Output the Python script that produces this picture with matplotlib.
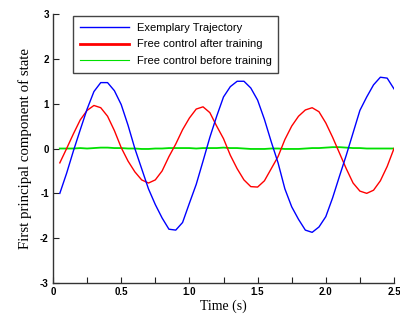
import matplotlib
matplotlib.use("Agg")
import matplotlib.pyplot as plt
from matplotlib.lines import Line2D
from matplotlib.ticker import MultipleLocator

t = [0.05, 0.10, 0.15, 0.20, 0.25, 0.30, 0.35, 0.40, 0.45, 0.50,
     0.55, 0.60, 0.65, 0.70, 0.75, 0.80, 0.85, 0.90, 0.95, 1.00,
     1.05, 1.10, 1.15, 1.20, 1.25, 1.30, 1.35, 1.40, 1.45, 1.50,
     1.55, 1.60, 1.65, 1.70, 1.75, 1.80, 1.85, 1.90, 1.95, 2.00,
     2.05, 2.10, 2.15, 2.20, 2.25, 2.30, 2.35, 2.40, 2.45, 2.50]

exemplary = [-1.00, -0.55, -0.05, 0.42, 0.88, 1.27, 1.47, 1.47, 1.29, 0.98,
             0.52, 0.00, -0.45, -0.90, -1.25, -1.55, -1.80, -1.82, -1.65, -1.22,
             -0.80, -0.28, 0.25, 0.72, 1.15, 1.38, 1.50, 1.50, 1.35, 1.08,
             0.65, 0.15, -0.32, -0.90, -1.30, -1.58, -1.82, -1.87, -1.75, -1.52,
             -1.10, -0.62, -0.15, 0.35, 0.85, 1.15, 1.42, 1.59, 1.57, 1.33]

after_training = [-0.32, 0.00, 0.33, 0.64, 0.85, 0.96, 0.91, 0.72, 0.40, 0.02,
                  -0.28, -0.52, -0.70, -0.77, -0.70, -0.50, -0.18, 0.10, 0.42, 0.68,
                  0.88, 0.93, 0.80, 0.50, 0.22, -0.15, -0.45, -0.70, -0.85, -0.86,
                  -0.72, -0.45, -0.18, 0.20, 0.50, 0.72, 0.86, 0.91, 0.82, 0.57,
                  0.25, -0.10, -0.45, -0.77, -0.95, -1.00, -0.93, -0.72, -0.40, 0.00]

before_training = [0.00, 0.00, 0.00, 0.01, 0.00, 0.01, 0.02, 0.02, 0.01, 0.01,
                   0.00, 0.00, -0.01, -0.01, 0.00, 0.00, 0.01, 0.01, 0.01, 0.01,
                   0.00, 0.01, 0.01, 0.01, 0.02, 0.01, 0.01, 0.00, -0.01, -0.01,
                   -0.01, 0.00, 0.00, -0.01, -0.01, -0.01, 0.00, 0.01, 0.01, 0.02,
                   0.03, 0.03, 0.02, 0.01, 0.01, 0.00, 0.00, 0.00, 0.00, 0.00]

labels = ["Exemplary Trajectory", "Free control after training", "Free control before training"]
x_ticks = [0, 0.5, 1.0, 1.5, 2.0, 2.5]
x_ticklabels = ["0", "0.5", "1.0", "1.5", "2.0", "2.5"]
y_ticks = [-3, -2, -1, 0, 1, 2, 3]

fig = plt.figure(figsize=(4.0, 3.2), dpi=100)
ax = fig.add_axes([0.1325, 0.1156, 0.8525, 0.8406])

ax.plot(t, before_training, color="#00e000", lw=1.3)
ax.plot(t, after_training, color="#ff0000", lw=1.0)
ax.plot(t, exemplary, color="#0000ff", lw=1.0)

ax.set_xlim(0, 2.5)
ax.set_ylim(-3, 3)
ax.set_xticks(x_ticks)
ax.set_xticklabels(x_ticklabels)
ax.xaxis.set_minor_locator(MultipleLocator(0.25))
ax.set_yticks(y_ticks)
ax.set_yticklabels([str(v) for v in y_ticks])

for s in ["top", "right"]:
    ax.spines[s].set_visible(False)
for s in ["left", "bottom"]:
    ax.spines[s].set_linewidth(1.0)
    ax.spines[s].set_color("#333333")

ax.tick_params(axis="both", which="both", direction="in", length=4, width=0.8,
               colors="#222222", pad=3)
for lab in ax.get_xticklabels() + ax.get_yticklabels():
    lab.set_fontfamily("Liberation Sans")
    lab.set_fontweight("bold")
    lab.set_fontsize(7)
    lab.set_color("black")

ax.set_xlabel("Time (s)", fontfamily="Liberation Serif", fontsize=10, labelpad=2)
ax.set_ylabel("First principal component of state", fontfamily="Liberation Serif",
              fontsize=10.7, labelpad=6)

handles = [Line2D([], [], color="#0000ff", lw=1.0),
           Line2D([], [], color="#ff0000", lw=2.0),
           Line2D([], [], color="#00e000", lw=0.8)]
leg = ax.legend(handles, labels, loc="upper left", bbox_to_anchor=(0.0587, 0.993),
                borderaxespad=0,
                prop={"family": "Liberation Sans", "size": 8}, fancybox=False,
                edgecolor="#444444", framealpha=1, handlelength=4.4,
                borderpad=0.6, labelspacing=0.62, handletextpad=0.72)
leg.get_frame().set_linewidth(1.0)

fig.savefig("out.png", dpi=100)
